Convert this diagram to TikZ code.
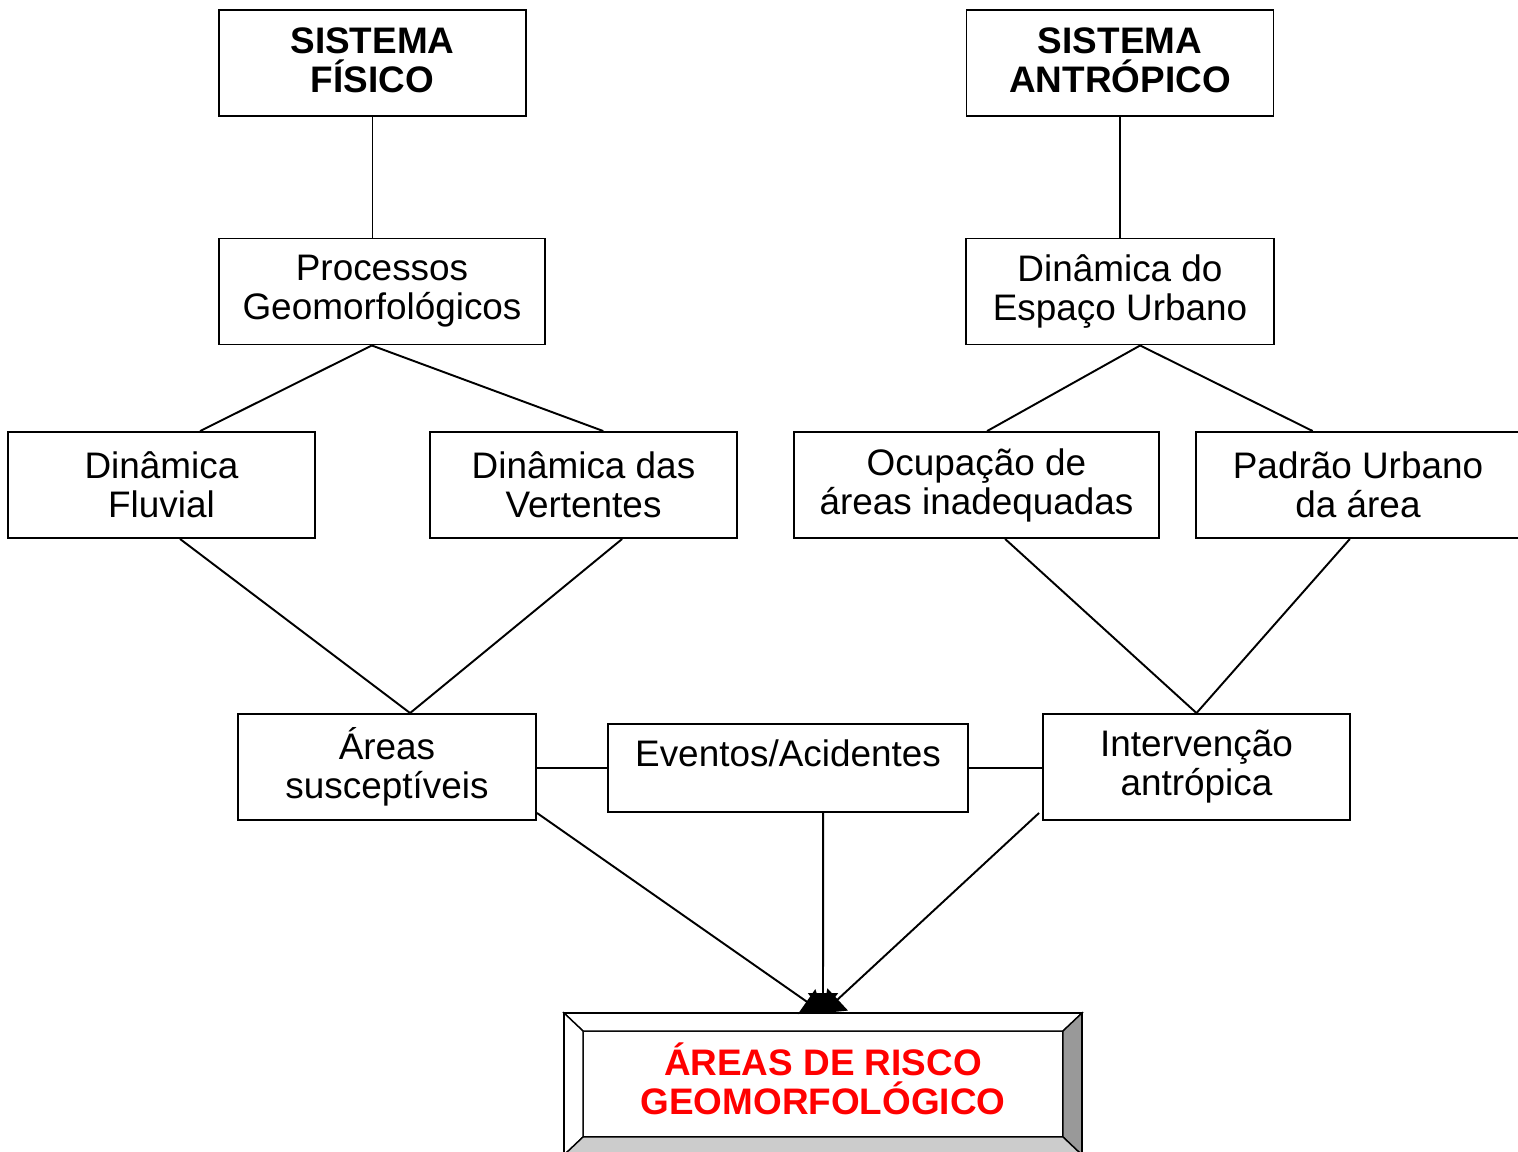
\documentclass[tikz,border=0pt]{standalone}
\usepackage{fontspec}
\setmainfont{Liberation Sans}
\usetikzlibrary{arrows.meta,calc}
\tikzset{
  caixa/.style={draw, line width=0.55pt, align=center, inner sep=0pt,
    minimum height=1.06cm, minimum width=3.07cm},
  titulo/.style={caixa, font=\fontsize{10.5}{11.1}\selectfont\bfseries},
  liga/.style={line width=0.55pt},
  seta/.style={line width=0.55pt, -{Triangle[length=0.2cm,width=0.3cm]}},
}

\begin{document}
\begin{tikzpicture}[font=\fontsize{10.5}{11.1}\selectfont]
	\useasboundingbox (0,0) rectangle (15.18,-11.51);
	% sistemas
	\node[titulo] (sf) at (3.725,-0.63){SISTEMA\\FÍSICO\\[-0.33cm]\mbox{}};
	\node[titulo] (sa) at (11.20,-0.63){SISTEMA\\ANTRÓPICO\\[-0.33cm]\mbox{}};
	% processos
	\node[caixa, minimum width=3.26cm] (pg) at (3.82,-2.915){Processos\\Geomorfológicos};
	\node[caixa, minimum width=3.08cm] (deu) at (11.20,-2.915){Dinâmica do\\Espaço Urbano};
	% dinamicas
	\node[caixa] (df) at (1.615,-4.85){Dinâmica\\Fluvial};
	\node[caixa] (dv) at (5.835,-4.85){Dinâmica das\\Vertentes};
	\node[caixa, minimum width=3.65cm] (oai) at (9.765,-4.85){Ocupação de\\áreas inadequadas};
	\node[caixa, minimum width=3.24cm] (pu) at (13.58,-4.85){Padrão Urbano\\da área};
	% terceiro nivel
	\node[caixa, minimum width=2.98cm] (as) at (3.87,-7.67){Áreas\\susceptíveis};
	\node[caixa, minimum width=3.60cm, minimum height=0.88cm] (ea) at (7.88,-7.68){Eventos/Acidentes\\[-0.1cm]\mbox{}};
	\node[caixa] (ia) at (11.965,-7.67){Intervenção\\antrópica};
	% resultado
	\node[inner sep=0pt, outer sep=0pt, minimum width=5.18cm, minimum height=1.42cm] (moldura) at (8.23,-10.84){};
	\node[caixa, minimum width=4.80cm, outer sep=0pt, text=red, font=\fontsize{10.5}{11.1}\selectfont\bfseries] (risco) at (8.23,-10.84){ÁREAS DE RISCO\\GEOMORFOLÓGICO\\[-0.29cm]\mbox{}};
	\filldraw[fill=white, line width=0.4pt] (moldura.north west) -- (moldura.north east) -- (risco.north east) -- (risco.north west) -- cycle;%topo
	\filldraw[fill=white, line width=0.4pt] (moldura.north west) -- (moldura.south west) -- (risco.south west) -- (risco.north west) -- cycle;%esq
	\filldraw[fill=black!40, line width=0.4pt] (moldura.north east) -- (moldura.south east) -- (risco.south east) -- (risco.north east) -- cycle;%dir
	\filldraw[fill=black!20, line width=0.4pt] (moldura.south west) -- (moldura.south east) -- (risco.south east) -- (risco.south west) -- cycle;%base
	\draw[line width=0.6pt] (moldura.north west) rectangle (moldura.south east);
	% ligacoes
	\draw[liga] (sf.south) -- (sf.south |- pg.north);
	\draw[liga] (sa.south) -- (deu.north);
	\draw[liga] ($(pg.south west)!0.469!(pg.south east)$) -- ($(df.north west)!0.625!(df.north east)$);
	\draw[liga] ($(pg.south west)!0.469!(pg.south east)$) -- ($(dv.north west)!0.564!(dv.north east)$);
	\draw[liga] ($(deu.south west)!0.565!(deu.south east)$) -- ($(oai.north west)!0.529!(oai.north east)$);
	\draw[liga] ($(deu.south west)!0.565!(deu.south east)$) -- ($(pu.north west)!0.361!(pu.north east)$);
	\draw[liga] ($(df.south west)!0.56!(df.south east)$) -- ($(as.north west)!0.577!(as.north east)$);
	\draw[liga] ($(dv.south west)!0.625!(dv.south east)$) -- ($(as.north west)!0.577!(as.north east)$);
	\draw[liga] ($(oai.south west)!0.578!(oai.south east)$) -- (ia.north);
	\draw[liga] ($(pu.south west)!0.475!(pu.south east)$) -- (ia.north);
	\draw[liga] (ea.west -| as.east) -- (ea.west);
	\draw[liga] (ea.east) -- (ea.east -| ia.west);
	% setas
	\draw[seta] ($(as.south east)+(0,0.08)$) -- (moldura.north);
	\draw[seta] ($(ea.south west)!0.597!(ea.south east)$) -- (moldura.north);
	\draw[seta] ($(ia.south west)+(-0.03,0.08)$) -- (moldura.north);
\end{tikzpicture}
\end{document}
